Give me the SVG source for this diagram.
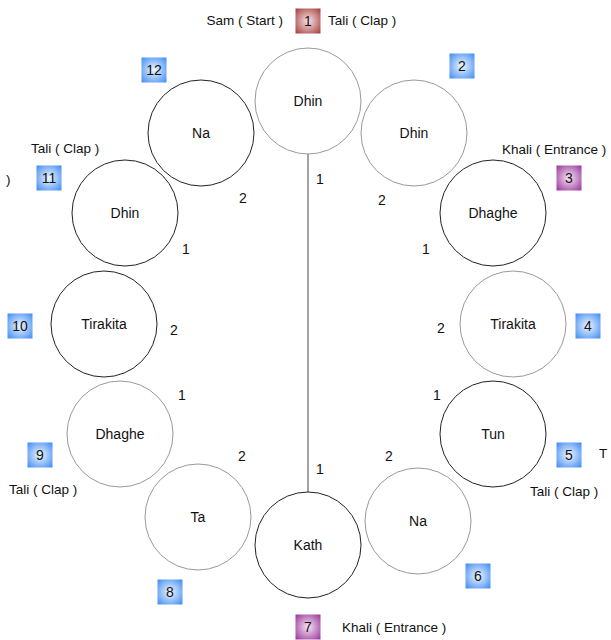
<svg xmlns="http://www.w3.org/2000/svg" width="611" height="640" viewBox="0 0 611 640">
<style>
text{font-family:"Liberation Sans",Arial,Helvetica,sans-serif;fill:#111;dominant-baseline:central}
.c{fill:#fff;stroke-width:1}
.k{stroke:#222}
.g{stroke:#999}
.ct{font-size:14px;text-anchor:middle}
.lb{font-size:13.5px}
.n{font-size:14px;text-anchor:middle}
.bx{stroke:none}
.bt{font-size:14px;text-anchor:middle}
</style>
<defs>
<radialGradient id="gb" cx="50%" cy="50%" r="70%">
<stop offset="0" stop-color="#f2f7ff"/>
<stop offset="1" stop-color="#3d8bf2"/>
</radialGradient>
<radialGradient id="gr" cx="50%" cy="50%" r="70%">
<stop offset="0" stop-color="#f8e6e6"/>
<stop offset="1" stop-color="#a33b3b"/>
</radialGradient>
<radialGradient id="gp" cx="50%" cy="50%" r="70%">
<stop offset="0" stop-color="#f6e6f6"/>
<stop offset="1" stop-color="#993399"/>
</radialGradient>
</defs>
<rect width="611" height="640" fill="#fff"/>
<g id="connectors">
<line x1="308" y1="154" x2="308" y2="492" stroke="#666" stroke-width="1.2"/>
</g>
<g id="n1"><circle class="c g" cx="308" cy="101" r="53"/><text class="ct" x="308" y="101">Dhin</text></g>
<g id="n2"><circle class="c g" cx="414" cy="133" r="53"/><text class="ct" x="414" y="133">Dhin</text></g>
<g id="n3"><circle class="c k" cx="493" cy="213" r="53"/><text class="ct" x="493" y="213">Dhaghe</text></g>
<g id="n4"><circle class="c g" cx="513" cy="324" r="53"/><text class="ct" x="513" y="324">Tirakita</text></g>
<g id="n5"><circle class="c k" cx="493" cy="434" r="53"/><text class="ct" x="493" y="434">Tun</text></g>
<g id="n6"><circle class="c g" cx="418" cy="521" r="53"/><text class="ct" x="418" y="521">Na</text></g>
<g id="n7"><circle class="c k" cx="308" cy="545" r="53"/><text class="ct" x="308" y="545">Kath</text></g>
<g id="n8"><circle class="c g" cx="198" cy="517" r="53"/><text class="ct" x="198" y="517">Ta</text></g>
<g id="n9"><circle class="c g" cx="120" cy="434" r="53"/><text class="ct" x="120" y="434">Dhaghe</text></g>
<g id="n10"><circle class="c k" cx="104" cy="324" r="53"/><text class="ct" x="104" y="324">Tirakita</text></g>
<g id="n11"><circle class="c k" cx="125" cy="213" r="53"/><text class="ct" x="125" y="213">Dhin</text></g>
<g id="n12"><circle class="c k" cx="201" cy="133" r="53"/><text class="ct" x="201" y="133">Na</text></g>
<g id="beats">
<g id="b1"><rect class="bx" x="295.5" y="8.5" width="25" height="25" fill="url(#gr)"/><text class="bt" x="308" y="21">1</text></g>
<g id="b2"><rect class="bx" x="449.5" y="53.5" width="25" height="25" fill="url(#gb)"/><text class="bt" x="462" y="66">2</text></g>
<g id="b3"><rect class="bx" x="556.5" y="165.5" width="25" height="25" fill="url(#gp)"/><text class="bt" x="569" y="178">3</text></g>
<g id="b4"><rect class="bx" x="575.5" y="313.5" width="25" height="25" fill="url(#gb)"/><text class="bt" x="588" y="326">4</text></g>
<g id="b5"><rect class="bx" x="556.5" y="442.5" width="25" height="25" fill="url(#gb)"/><text class="bt" x="569" y="455">5</text></g>
<g id="b6"><rect class="bx" x="465.5" y="563.5" width="25" height="25" fill="url(#gb)"/><text class="bt" x="478" y="576">6</text></g>
<g id="b7"><rect class="bx" x="295.5" y="614.5" width="25" height="25" fill="url(#gp)"/><text class="bt" x="308" y="627">7</text></g>
<g id="b8"><rect class="bx" x="157.5" y="579.5" width="25" height="25" fill="url(#gb)"/><text class="bt" x="170" y="592">8</text></g>
<g id="b9"><rect class="bx" x="27.5" y="442.5" width="25" height="25" fill="url(#gb)"/><text class="bt" x="40" y="455">9</text></g>
<g id="b10"><rect class="bx" x="7.5" y="313.5" width="25" height="25" fill="url(#gb)"/><text class="bt" x="20" y="326">10</text></g>
<g id="b11"><rect class="bx" x="36.5" y="165.5" width="25" height="25" fill="url(#gb)"/><text class="bt" x="49" y="178">11</text></g>
<g id="b12"><rect class="bx" x="141.5" y="57.5" width="25" height="25" fill="url(#gb)"/><text class="bt" x="154" y="70">12</text></g>
</g>
<g id="labels">
<text class="lb" x="283" y="20" text-anchor="end">Sam ( Start )</text>
<text class="lb" x="328" y="20">Tali ( Clap )</text>
<text class="lb" x="31" y="148">Tali ( Clap )</text>
<text class="lb" x="502" y="149">Khali ( Entrance )</text>
<text class="lb" x="530" y="491">Tali ( Clap )</text>
<text class="lb" x="9" y="489">Tali ( Clap )</text>
<text class="lb" x="342" y="627">Khali ( Entrance )</text>
<text class="lb" x="6" y="179">)</text>
<text class="lb" x="599" y="453">T</text>
</g>
<g id="counts">
<text class="n" x="320" y="179">1</text>
<text class="n" x="382" y="200">2</text>
<text class="n" x="426" y="249">1</text>
<text class="n" x="243" y="198">2</text>
<text class="n" x="186" y="249">1</text>
<text class="n" x="441" y="328">2</text>
<text class="n" x="174" y="330">2</text>
<text class="n" x="437" y="395">1</text>
<text class="n" x="182" y="395">1</text>
<text class="n" x="242" y="456">2</text>
<text class="n" x="389" y="456">2</text>
<text class="n" x="320" y="469">1</text>
</g>
</svg>
